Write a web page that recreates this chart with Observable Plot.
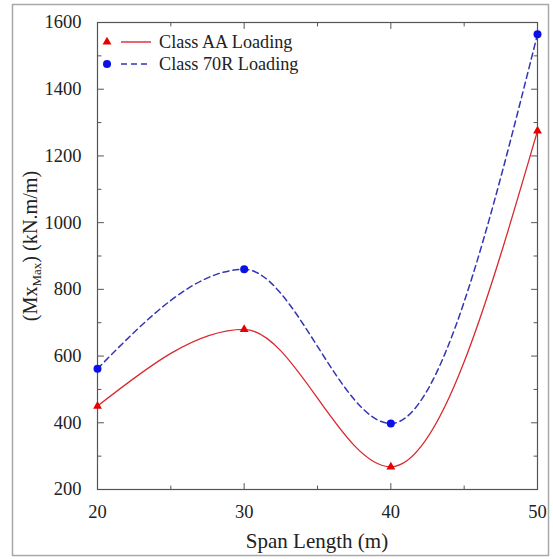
<!DOCTYPE html>
<html><head><meta charset="utf-8">
<script src="https://cdn.jsdelivr.net/npm/d3@7"></script>
<script src="https://cdn.jsdelivr.net/npm/@observablehq/plot@0.6"></script>
<style>
html,body{margin:0;padding:0;background:#fff}
svg{display:block}
#chart svg, #chart svg text, #chart svg tspan, #chart svg g { font-family: "Liberation Serif", "Times New Roman", serif !important; }
</style>
</head><body><div id="chart"></div>
<script>
const spans = [20, 30, 40, 50];
const classAA = [450, 680, 268, 1275];
const class70R = [562, 860, 398, 1565];
const xTicks = [20, 30, 40, 50];
const xMinor = [25, 35, 45];
const yTicks = [200, 400, 600, 800, 1000, 1200, 1400, 1600];
const yMinor = [300, 500, 700, 900, 1100, 1300, 1500];
const seriesNames = ["Class AA Loading", "Class 70R Loading"];
const xLabel = "Span Length (m)";

const font = "Liberation Serif, serif";
const redLine = "#d9282e", redMark = "#e60000";
const blueLine = "#3434b4", blueMark = "#0a10e6";
const axisColor = "#555";

const aa = spans.map((x, i) => ({x, y: classAA[i]}));
const r70 = spans.map((x, i) => ({x, y: class70R[i]}));

const tickShape = {draw(ctx, l) { ctx.moveTo(0, 0); ctx.lineTo(0, -l); }};
const ticks = (data, channel, anchor, rotate, len) =>
  Plot.vector(data, {[channel]: d => d, frameAnchor: anchor, rotate, length: len, anchor: "start",
    shape: tickShape, stroke: axisColor, strokeWidth: 1});

const plot = Plot.plot({
  width: 553, height: 559,
  marginLeft: 97, marginRight: 16, marginTop: 22, marginBottom: 70,
  style: {fontFamily: font, background: "#fff"},
  x: {domain: [20, 50]},
  y: {domain: [200, 1600]},
  marks: [
    Plot.frame({stroke: axisColor, strokeWidth: 1.2}),
    ticks(xTicks, "x", "bottom", 0, 6), ticks(xMinor, "x", "bottom", 0, 3.5),
    ticks(xTicks, "x", "top", 180, 6), ticks(xMinor, "x", "top", 180, 3.5),
    ticks(yTicks, "y", "left", 90, 6), ticks(yMinor, "y", "left", 90, 3.5),
    ticks(yTicks, "y", "right", 270, 6), ticks(yMinor, "y", "right", 270, 3.5),
    Plot.axisX({ticks: xTicks, tickSize: 0, tickPadding: 15, fontSize: 18.5, fill: "#222", label: null, tickFormat: d => String(d)}),
    Plot.axisY({ticks: yTicks, tickSize: 0, tickPadding: 16, fontSize: 18.5, fill: "#222", label: null, tickFormat: d => String(d)}),
    Plot.line(aa, {x: "x", y: "y", curve: "monotone-x", stroke: redLine, strokeWidth: 1.3}),
    Plot.line(r70, {x: "x", y: "y", curve: "monotone-x", stroke: blueLine, strokeWidth: 1.5, strokeDasharray: "6,4"}),
    Plot.dot(aa, {x: "x", y: "y", symbol: "triangle", r: 3.3, fill: redMark}),
    Plot.dot(r70, {x: "x", y: "y", symbol: "circle", r: 4, fill: blueMark})
  ]
});

const svg = d3.select(plot);
// outer figure border
svg.append("rect").attr("x", 12.5).attr("y", 4.5).attr("width", 536).attr("height", 551)
  .attr("fill", "none").attr("stroke", "#a8a8a8").attr("stroke-width", 1.5);

// x label
svg.append("text").attr("x", 317).attr("y", 548).attr("text-anchor", "middle")
  .attr("font-size", 21).attr("fill", "#222").text(xLabel);

// y label with subscript
const yl = svg.append("text").attr("transform", "translate(37,246) rotate(-90)")
  .attr("text-anchor", "middle").attr("font-size", 20.2).attr("fill", "#222");
yl.append("tspan").text("(Mx");
yl.append("tspan").attr("font-size", 13).attr("dy", 4).text("Max");
yl.append("tspan").attr("dy", -4).text(") (kN.m/m)");

// legend
const leg = svg.append("g").attr("font-size", 18.2).attr("fill", "#222").attr("text-anchor", "start");
const rows = [
  {name: seriesNames[0], sym: d3.symbolTriangle, size: Math.PI * 3.3 * 3.3, fill: redMark, stroke: redLine, dash: null},
  {name: seriesNames[1], sym: d3.symbolCircle, size: Math.PI * 4 * 4, fill: blueMark, stroke: blueLine, dash: "6,4"}
];
rows.forEach((r, i) => {
  const y = 42 + i * 22;
  leg.append("path").attr("d", d3.symbol(r.sym, r.size)()).attr("transform", `translate(107,${y})`).attr("fill", r.fill);
  leg.append("line").attr("x1", 121).attr("x2", 151).attr("y1", y).attr("y2", y)
    .attr("stroke", r.stroke).attr("stroke-width", 1.4).attr("stroke-dasharray", r.dash);
  leg.append("text").attr("x", 159).attr("y", y).attr("dy", "0.35em").attr("text-anchor", "start").text(r.name);
});

document.getElementById("chart").append(plot);
</script>
</body></html>
